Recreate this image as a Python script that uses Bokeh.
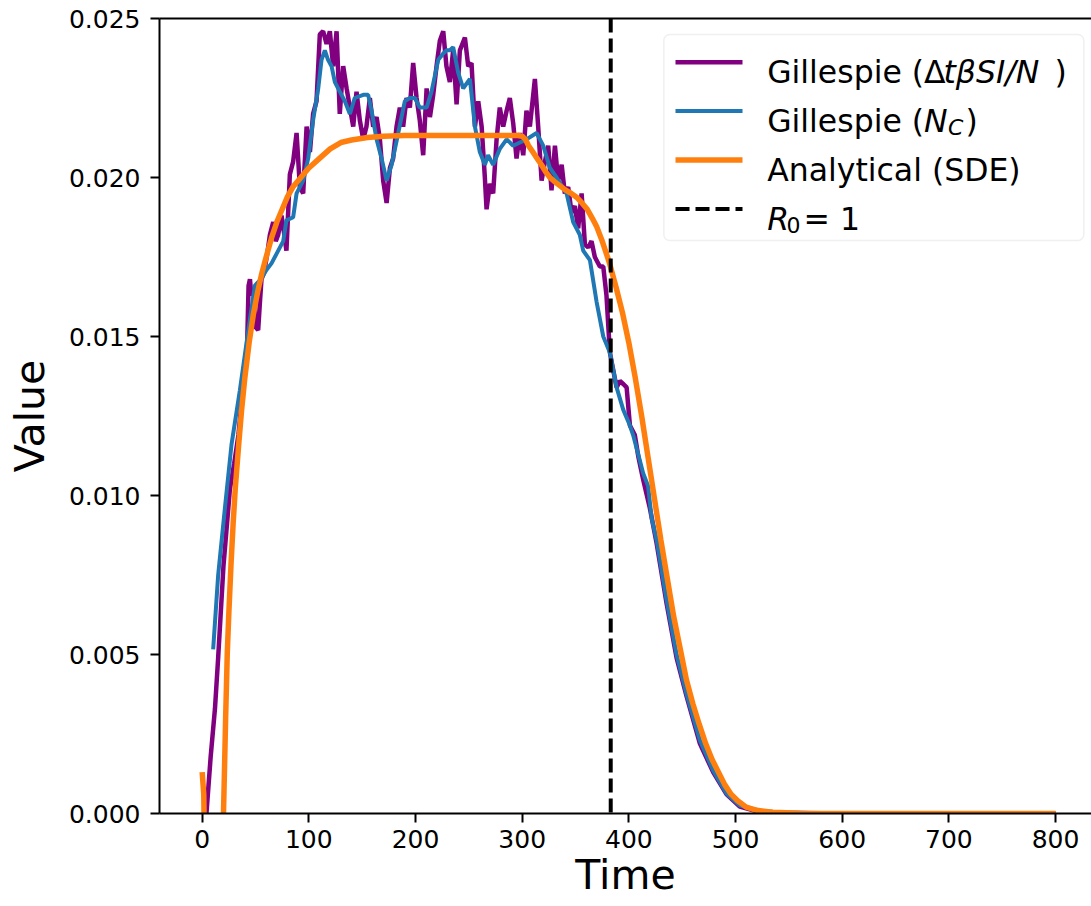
from bokeh.plotting import figure
from bokeh.models import (Range1d, FixedTicker, PrintfTickFormatter, Span, Label,
                          BoxAnnotation, Arrow, LinearAxis)
from bokeh.embed import file_html
from bokeh.resources import INLINE

# ---------------- data ----------------
purple_t = [4, 8, 12, 15, 20, 26, 30, 34, 38, 42, 43.5, 44.8, 46, 48, 50, 52.5, 54, 55.6, 58, 61,
            63.5, 66.6, 69, 71.3, 74.4, 77, 79, 82.2, 85.3, 88.5, 91.6, 94.7, 97.9, 101, 104, 107.2,
            110.3, 113.4, 116.6, 119.7, 122.8, 126, 129, 132.2, 135.4, 138.5, 141.6, 144.7, 147.8,
            151, 154, 157.2, 160.3, 163.5, 166.6, 169.7, 172.9, 176, 179, 182.2, 185.3, 188.4,
            191.6, 194.7, 197.8, 201, 204, 207.2, 210.4, 213.5, 216.6, 219.7, 222.8, 226, 229,
            232.2, 235.3, 238.5, 241.6, 246.3, 249.4, 252.5, 255.7, 258.8, 262, 265, 266.6, 269.7,
            272.8, 276, 279, 282.2, 285.4, 288.4, 291.6, 294.7, 297.8, 301, 304, 307.2, 311.9, 315,
            318.2, 321.3, 324.4, 327.5, 330.7, 333.7, 337, 340, 343.1, 346.3, 349.4, 352.5, 355.7,
            358.8, 361.9, 365, 368.1, 372.8, 376, 379, 382.2, 385, 388.5, 391.6, 395, 397.9, 401,
            405.6, 409, 413.4, 419.7, 426, 435.4, 444.7, 454, 466.6, 479, 491.6, 504, 520, 540,
            600, 800]
purple_v = [0.0, 0.0018, 0.0033, 0.0049, 0.0078, 0.0102, 0.0110, 0.0119, 0.0133, 0.0145, 0.0166,
            0.0168, 0.0163, 0.0165, 0.0153, 0.0152, 0.0160, 0.0168, 0.0170, 0.0176, 0.0182,
            0.0186, 0.0180, 0.0182, 0.0188, 0.0182, 0.0177, 0.0201, 0.0205, 0.0214, 0.0197,
            0.0195, 0.0216, 0.0208, 0.0220, 0.0224, 0.0245, 0.0246, 0.0242, 0.0246, 0.0235,
            0.0246, 0.0220, 0.0235, 0.0228, 0.0222, 0.0216, 0.0227, 0.0218, 0.0212, 0.0216,
            0.0225, 0.0216, 0.0219, 0.0212, 0.0199, 0.0192, 0.0203, 0.0206, 0.0216, 0.0222,
            0.0216, 0.0225, 0.0222, 0.0236, 0.0225, 0.0218, 0.0207, 0.0228, 0.0219, 0.0226,
            0.0235, 0.0243, 0.0246, 0.0235, 0.0230, 0.0240, 0.0223, 0.0240, 0.0244, 0.0235,
            0.0236, 0.0216, 0.0224, 0.0216, 0.0200, 0.0190, 0.0198, 0.0195, 0.0212, 0.0222,
            0.0216, 0.0221, 0.0225, 0.0217, 0.0206, 0.0214, 0.0207, 0.0221, 0.0216, 0.0231,
            0.0216, 0.0199, 0.0205, 0.0210, 0.0196, 0.0210, 0.0199, 0.0204, 0.0195, 0.0197,
            0.0189, 0.0191, 0.0184, 0.0195, 0.0179, 0.0178, 0.0180, 0.0175, 0.0172, 0.0172,
            0.0163, 0.0145, 0.0140, 0.0134, 0.0136, 0.0135, 0.0134, 0.0122, 0.0119, 0.0112,
            0.0105, 0.0096, 0.0085, 0.0066, 0.0049, 0.0037, 0.0022, 0.0013, 0.0006, 0.00022,
            0.00007, 0.00002, 0.0, 0.0]

blue_t = [10.3, 15, 21.3, 27.5, 35.3, 41.6, 49.4, 55, 60.4, 65, 69.7, 76, 79, 85.3, 88.5, 94.7,
          99.4, 104, 108.8, 111.9, 115, 118, 121.3, 124.4, 129, 133.8, 138.5, 143, 151, 155.6,
          158.8, 163.5, 168.2, 172.9, 177.6, 183.8, 190, 194.7, 199.4, 204, 210.4, 215, 221.3,
          226, 229, 232.2, 235.3, 240, 244.7, 251, 255.7, 260.3, 265, 268, 272.8, 279, 285.4,
          291.6, 297.8, 304, 313.5, 319.7, 326, 332.2, 341.6, 347.8, 354, 357.2, 363.5, 369.7,
          376, 382.2, 388.5, 394.7, 401, 404, 410.3, 413.4, 418, 421.3, 426, 435.4, 444.7, 454,
          466.6, 479, 491.6, 504, 522.8, 540, 600, 800]
blue_v = [0.00516, 0.0075, 0.0096, 0.0116, 0.0133, 0.0148, 0.0166, 0.0168, 0.0171, 0.0173,
          0.0176, 0.0180, 0.01865, 0.01875, 0.0195, 0.0199, 0.0206, 0.0218, 0.0228, 0.0237,
          0.0240, 0.0237, 0.0235, 0.0230, 0.0227, 0.0224, 0.0220, 0.0225, 0.0226, 0.0226,
          0.0221, 0.0212, 0.0206, 0.0199, 0.0204, 0.0214, 0.0224, 0.0225, 0.0225, 0.0222,
          0.0222, 0.0227, 0.0237, 0.0239, 0.0240, 0.0240, 0.0241, 0.0233, 0.0228, 0.0231,
          0.0216, 0.0208, 0.0204, 0.0207, 0.0204, 0.0209, 0.0212, 0.0210, 0.0211, 0.0212,
          0.0214, 0.0210, 0.0203, 0.0200, 0.0195, 0.0186, 0.0182, 0.0177, 0.0174, 0.0161,
          0.0150, 0.0145, 0.0134, 0.0127, 0.0122, 0.0119, 0.0111, 0.0107, 0.0103, 0.0093,
          0.0086, 0.0067, 0.0050, 0.00376, 0.0023, 0.00135, 0.00062, 0.00025, 0.00009,
          0.00003, 0.0, 0.0]

orange_t = [0, 1.5, 3, 10, 17, 20, 21, 22, 23.5, 25, 27, 29, 31, 34, 37, 40, 44, 48, 52, 56, 60,
            65, 70, 75, 80, 85, 90, 95, 100, 110, 120, 130, 140, 155, 170, 190, 296, 300, 303,
            306, 310, 314, 318, 322, 326, 330, 335, 340, 346, 351, 356, 361, 366, 370, 375, 379,
            382, 388, 394, 400, 406, 412, 418, 424, 430, 436, 442, 448, 454, 460, 466, 472, 478,
            484, 490, 496, 502, 510, 520, 535, 560, 600, 800]
orange_v = [0.0013, 0.0006, -0.003, -0.02, -0.006, 0.0, 0.0015, 0.0030, 0.0050, 0.0063, 0.0078,
            0.0091, 0.0102, 0.0115, 0.0127, 0.0137, 0.0148, 0.0157, 0.0164, 0.0170, 0.0175,
            0.0181, 0.0186, 0.0190, 0.0194, 0.0197, 0.0199, 0.0201, 0.0203, 0.0206, 0.0209,
            0.0211, 0.02118, 0.02126, 0.02130, 0.02132, 0.02132, 0.02130, 0.0212, 0.0210,
            0.0208, 0.0206, 0.0204, 0.02018, 0.0200, 0.01988, 0.01975, 0.01962, 0.0195, 0.01938,
            0.0192, 0.0190, 0.0187, 0.01844, 0.0180, 0.0176, 0.01729, 0.01655, 0.01575, 0.0148,
            0.0137, 0.0125, 0.0112, 0.0099, 0.0086, 0.0074, 0.0062, 0.0052, 0.0042, 0.00345,
            0.0028, 0.0022, 0.0017, 0.0013, 0.0009, 0.0006, 0.0004, 0.0002, 0.0001, 0.00004,
            0.00001, 0.0, 0.0]

r0_time = 383

x_ticks = [0, 100, 200, 300, 400, 500, 600, 700, 800]
y_ticks = [0.000, 0.005, 0.010, 0.015, 0.020, 0.025]

x_label = "Time"
y_label = "Value"
legend_labels = ["Gillespie (\u0394tβSI/N )", "Gillespie (N_C)", "Analytical (SDE)", "R_0 = 1"]

PURPLE = "#800080"
BLUE = "#1f77b4"
ORANGE = "#ff7f0e"
FONT = "DejaVu Sans"

# ---------------- figure ----------------
p = figure(width=1091, height=906, x_range=Range1d(-40, 833.7), y_range=Range1d(0, 0.025),
           output_backend="svg", toolbar_location=None,
           min_border_left=159, min_border_right=0, min_border_top=18, min_border_bottom=93)
p.grid.visible = False
p.background_fill_color = "white"
p.border_fill_color = "white"
p.outline_line_color = None

for ax in (p.xaxis[0], p.yaxis[0]):
    ax.axis_line_width = 2
    ax.major_tick_line_width = 2
    ax.major_tick_out = 9
    ax.major_tick_in = 0
    ax.minor_tick_line_color = None
    ax.major_label_text_font = FONT
    ax.major_label_text_font_size = "25px"
    ax.major_label_text_color = "black"
    ax.axis_label_text_font = FONT
    ax.axis_label_text_font_size = "41px"
    ax.axis_label_text_font_style = "normal"
    ax.axis_label_text_color = "black"

p.xaxis.ticker = FixedTicker(ticks=x_ticks)
p.yaxis.ticker = FixedTicker(ticks=y_ticks)
p.yaxis.formatter = PrintfTickFormatter(format="%.3f")
p.xaxis.major_label_standoff = 7
p.yaxis.major_label_standoff = 10
p.xaxis.axis_label = x_label
p.yaxis.axis_label = y_label
p.xaxis.axis_label_standoff = 0
p.yaxis.axis_label_standoff = 12

# top spine (no ticks, no labels)
top = LinearAxis(ticker=FixedTicker(ticks=[]), axis_line_width=2,
                 major_tick_line_color=None, minor_tick_line_color=None,
                 major_label_text_font_size="0px")
p.add_layout(top, "above")

p.line(purple_t, purple_v, line_color=PURPLE, line_width=4.5)
p.line(blue_t, blue_v, line_color=BLUE, line_width=4)
p.line(orange_t, orange_v, line_color=ORANGE, line_width=5.5)
p.add_layout(Span(location=r0_time, dimension="height", line_color="black",
                  line_width=4, line_dash="14 6"))

# ---------------- legend (screen units, relative to frame) ----------------
box = BoxAnnotation(left=504.3, right=924.3, bottom=573, top=779,
                    left_units="screen", right_units="screen",
                    bottom_units="screen", top_units="screen",
                    fill_color="white", fill_alpha=0.8,
                    line_color="#cccccc", line_width=1.5, border_radius=6)
p.add_layout(box)

row_y = [751.3, 702.4, 653.5, 604.6]
samples = [(PURPLE, 4.5, "solid"), (BLUE, 4, "solid"), (ORANGE, 5.5, "solid"), ("black", 4, "14 6")]
for (col, lw, dash), yy in zip(samples, row_y):
    p.add_layout(Arrow(x_start=516, y_start=yy, x_end=583, y_end=yy,
                       start_units="screen", end_units="screen", start=None, end=None,
                       line_color=col, line_width=lw, line_dash=dash))

FS = "31.5px"
SUB = "22px"
tx = 607.7


def lab(text, x, y, style="normal", size=FS):
    p.add_layout(Label(x=x, y=y, x_units="screen", y_units="screen", text=text,
                       text_font=FONT, text_font_size=size, text_font_style=style,
                       text_color="black", text_baseline="alphabetic", text_align="left"))


b = [yy - 10 for yy in row_y]
# row 1: Gillespie (ΔtβSI/N )
lab("Gillespie (\u0394", tx, b[0])
lab("tβSI/N", 784, b[0], "italic")
lab(")", 895, b[0])
# row 2: Gillespie (N_C)
lab("Gillespie (", tx, b[1])
lab("N", 764.6, b[1], "italic")
lab("C", 788.5, b[1] - 6, "italic", SUB)
lab(")", 806, b[1])
# row 3
lab("Analytical (SDE)", tx, b[2])
# row 4: R_0 = 1
lab("R", tx, b[3], "italic")
lab("0", 627, b[3] - 6, "normal", SUB)
lab("= 1", 644, b[3])

open("out.html", "w").write(file_html(p, INLINE))
